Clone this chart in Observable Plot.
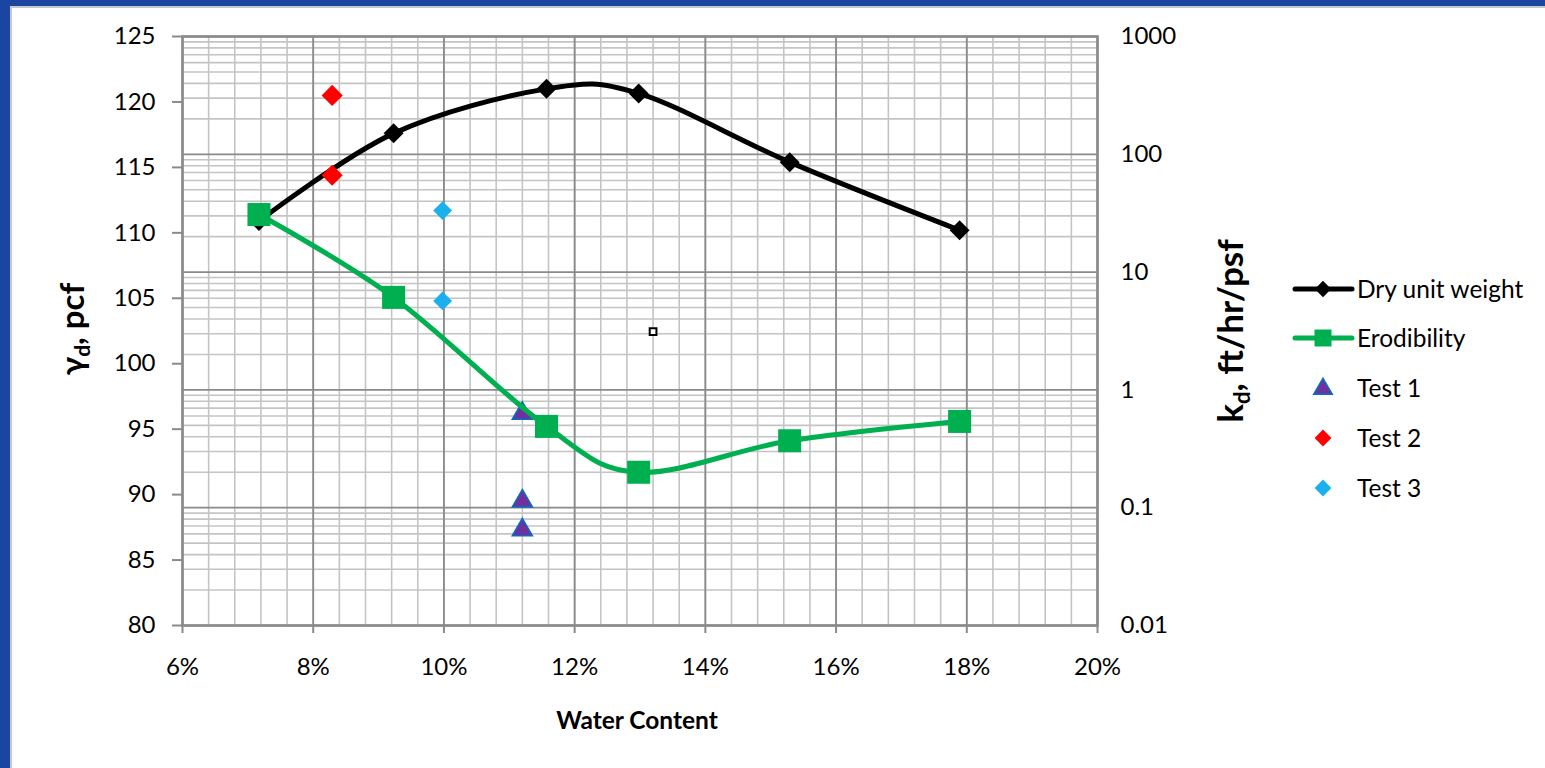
<!DOCTYPE html>
<html><head><meta charset="utf-8">
<script src="https://cdn.jsdelivr.net/npm/d3@7"></script>
<script src="https://cdn.jsdelivr.net/npm/@observablehq/plot@0.6"></script>
<style>
html,body{margin:0;padding:0;width:1545px;height:768px;overflow:hidden;background:#1a46a2;font-family:Lato,sans-serif;}
#frame{position:absolute;left:10px;top:6px;width:1535px;height:762px;background:#fff;border-left:2px solid #c8c8c8;border-top:2px solid #c8c8c8;box-sizing:border-box}
#chart{position:absolute;left:0;top:0;}
#legend{position:absolute;left:1280px;top:260px;}
</style></head>
<body>
<div id="frame"></div>
<div id="chart"></div>
<div id="legend"></div>
<script>
// ---- data ----
const waterContent   = [0.0717, 0.0923, 0.1157, 0.1298, 0.1529, 0.1789];
const dryUnitWeight  = [110.9, 117.6, 121.0, 120.65, 115.4, 110.2];   // pcf (left axis)
const erodibility    = [30.8, 6.1, 0.49, 0.20, 0.37, 0.54];           // ft/hr/psf (right axis, log)
const test1W = [0.112, 0.112, 0.112];
const test1G = [96.2, 89.5, 87.3];
const test2W = [0.0829, 0.0829];
const test2G = [120.5, 114.4];
const test3W = [0.0998, 0.0998];
const test3G = [111.7, 104.8];
const strayW = [0.132];
const strayG = [102.45];
const xTicks = [0.06, 0.08, 0.10, 0.12, 0.14, 0.16, 0.18, 0.20];
const leftTicks = [80, 85, 90, 95, 100, 105, 110, 115, 120, 125];
const rightTicks = [0.01, 0.1, 1, 10, 100, 1000];
const rightTickLabels = ["0.01", "0.1", "1", "10", "100", "1000"];
const seriesNames = ["Dry unit weight", "Erodibility", "Test 1", "Test 2", "Test 3"];

// right (log) axis expressed on the left-axis scale: 0.01 -> 80, 1000 -> 125
const kToY = k => 80 + (Math.log10(k) + 2) * 9;

const dry = waterContent.map((w, i) => ({w, y: dryUnitWeight[i]}));
const ero = waterContent.map((w, i) => ({w, y: kToY(erodibility[i])}));
const t1 = test1W.map((w, i) => ({w, y: test1G[i]}));
const t2 = test2W.map((w, i) => ({w, y: test2G[i]}));
const t3 = test3W.map((w, i) => ({w, y: test3G[i]}));
const stray = strayW.map((w, i) => ({w, y: strayG[i]}));

// grid positions
const minorX = d3.range(0, 36).map(i => +(0.06 + i * 0.004).toFixed(4));
const logMinor = [];
for (let e = -2; e < 3; e++) for (let m = 2; m <= 9; m++) logMinor.push(m * Math.pow(10, e));
const rightY = rightTicks.map(kToY);

const plot = Plot.plot({
  width: 1545, height: 768,
  marginLeft: 182, marginRight: 448, marginTop: 36, marginBottom: 143,
  style: {fontFamily: "Lato, sans-serif", fontSize: "24px", background: "transparent", color: "black", overflow: "visible"},
  x: {domain: [0.06, 0.20], label: null},
  y: {domain: [80, 125], label: null},
  marks: [
    Plot.ruleX(minorX, {stroke: "#c4c4c4", strokeWidth: 1.6}),
    Plot.ruleY(logMinor.map(kToY), {stroke: "#c4c4c4", strokeWidth: 1.6}),
    Plot.ruleX(xTicks, {stroke: "#8a8a8a", strokeWidth: 1.8}),
    Plot.ruleY(rightY, {stroke: "#8a8a8a", strokeWidth: 1.8}),
    Plot.frame({stroke: "#8a8a8a", strokeWidth: 2.5}),
    Plot.axisY(leftTicks, {anchor: "left", tickSize: 10, tickPadding: 17, fontSize: 24, stroke: "#8a8a8a", strokeWidth: 2, fill: "black", label: null}),
    Plot.axisY(rightY, {anchor: "right", tickSize: 0, tickPadding: 23, fontSize: 24, fill: "black", textAnchor: "start",
      tickFormat: d => rightTickLabels[rightY.indexOf(d)], label: null}),
    Plot.axisX(xTicks, {anchor: "bottom", tickSize: 8, tickPadding: 24, fontSize: 24, stroke: "#8a8a8a", strokeWidth: 2, fill: "black",
      tickFormat: d3.format(".0%"), label: null}),
    Plot.line(dry, {x: "w", y: "y", stroke: "black", strokeWidth: 5, curve: "cardinal"}),
    Plot.dot(dry, {x: "w", y: "y", symbol: "diamond2", fill: "black", r: 9}),
    Plot.dot(t2, {x: "w", y: "y", symbol: "diamond2", fill: "#ff0000", r: 9.5}),
    Plot.dot(t3, {x: "w", y: "y", symbol: "diamond2", fill: "#1ab0ee", r: 8.5}),
    Plot.dot(t1, {x: "w", y: "y", symbol: "triangle", fill: "#7030a0", stroke: "#0070c0", strokeWidth: 1.5, r: 7.5}),
    Plot.line(ero, {x: "w", y: "y", stroke: "#00b050", strokeWidth: 5, curve: "cardinal"}),
    Plot.dot(ero, {x: "w", y: "y", symbol: "square", fill: "#00b050", r: 13}),
    Plot.dot(stray, {x: "w", y: "y", symbol: "square", fill: "white", stroke: "black", strokeWidth: 2, r: 3.8})
  ]
});
document.getElementById("chart").appendChild(plot);

// axis titles (real text with subscripts)
const svg = d3.select(plot);
const lt = svg.append("text").attr("transform", "translate(84,329) rotate(-90)")
  .attr("text-anchor", "middle").attr("font-family", "Lato, sans-serif").attr("font-weight", "bold").attr("font-size", 33).attr("fill", "black");
lt.append("tspan").text("γ");
lt.append("tspan").attr("font-size", 21).attr("dy", 6).text("d");
lt.append("tspan").attr("dy", -6).text(", pcf");
const rt = svg.append("text").attr("transform", "translate(1243,331) rotate(-90)")
  .attr("text-anchor", "middle").attr("font-family", "Lato, sans-serif").attr("font-weight", "bold").attr("font-size", 35).attr("fill", "black");
rt.append("tspan").text("k");
rt.append("tspan").attr("font-size", 22).attr("dy", 7).text("d");
rt.append("tspan").attr("dy", -7).text(", ft/hr/psf");
svg.append("text").attr("x", 637).attr("y", 729).attr("text-anchor", "middle")
  .attr("font-family", "Lato, sans-serif").attr("font-weight", "bold").attr("font-size", 24.5).attr("fill", "black").text("Water Content");

// legend
const lg = d3.select("#legend").append("svg").attr("width", 265).attr("height", 260)
  .style("font-family", "Lato, sans-serif").style("font-size", "24.5px");
const rowY = [29, 78, 128, 178, 228];
const ox = 1280, mx = 1323 - ox, tx = 1357 - ox;
// Dry unit weight
lg.append("line").attr("x1", 1295 - ox).attr("x2", 1352 - ox).attr("y1", rowY[0]).attr("y2", rowY[0]).attr("stroke", "black").attr("stroke-width", 5).attr("stroke-linecap", "round");
lg.append("path").attr("d", d3.symbol(d3.symbolDiamond2, 170)()).attr("transform", `translate(${mx},${rowY[0]})`).attr("fill", "black");
// Erodibility
lg.append("line").attr("x1", 1295 - ox).attr("x2", 1352 - ox).attr("y1", rowY[1]).attr("y2", rowY[1]).attr("stroke", "#00b050").attr("stroke-width", 5).attr("stroke-linecap", "round");
lg.append("path").attr("d", d3.symbol(d3.symbolSquare, 289)()).attr("transform", `translate(${mx},${rowY[1]})`).attr("fill", "#00b050");
// Tests
lg.append("path").attr("d", d3.symbol(d3.symbolTriangle, 150)()).attr("transform", `translate(${mx},${rowY[2] + 1})`).attr("fill", "#7030a0").attr("stroke", "#0070c0").attr("stroke-width", 1.5);
lg.append("path").attr("d", d3.symbol(d3.symbolDiamond2, 180)()).attr("transform", `translate(${mx},${rowY[3]})`).attr("fill", "#ff0000");
lg.append("path").attr("d", d3.symbol(d3.symbolDiamond2, 180)()).attr("transform", `translate(${mx},${rowY[4]})`).attr("fill", "#1ab0ee");
seriesNames.forEach((n, i) => {
  lg.append("text").attr("x", tx).attr("y", rowY[i]).attr("dy", "0.36em").attr("fill", "black").text(n);
});
</script>
</body></html>
